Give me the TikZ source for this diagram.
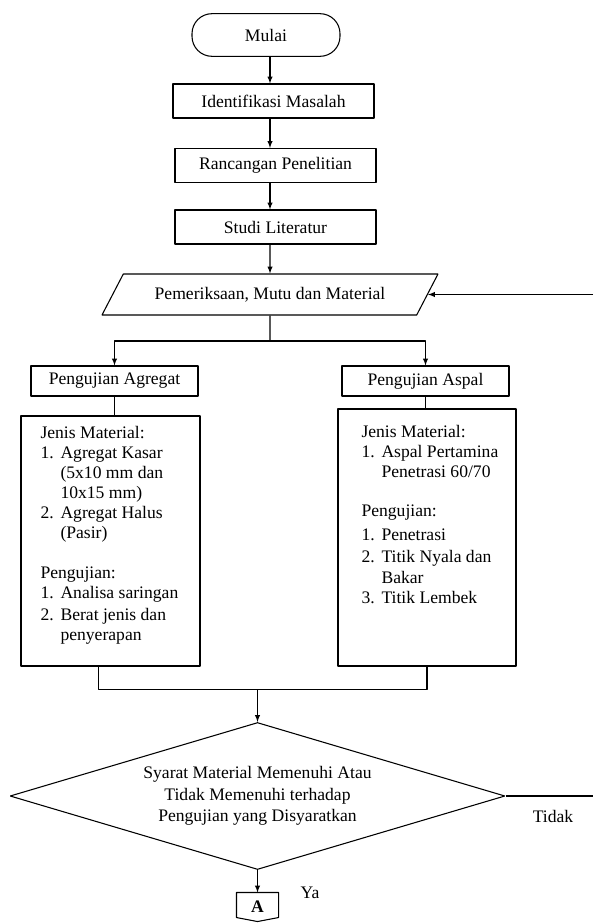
\documentclass[tikz,border=0pt]{standalone}
\usepackage{fontspec}
\setmainfont{Liberation Serif}
\usetikzlibrary{shapes.geometric}
\tikzset{
  terminal/.style={draw,rounded corners=15pt,minimum width=111pt,minimum height=32pt,inner sep=0pt},
  kotak/.style={draw,minimum width=150.75pt,minimum height=25.5pt,inner sep=0pt},
  kotakuji/.style={kotak,minimum width=125.25pt,minimum height=22.5pt},
  jajar/.style={draw,trapezium,trapezium left angle=35,trapezium right angle=145,
    trapezium stretches body,minimum width=252pt,minimum height=30.75pt,inner sep=0pt},
  isian/.style={draw,inner sep=0pt},
  teks/.style={anchor=north west,inner sep=0pt},
  syarat/.style={draw,diamond,aspect=3.4,minimum width=371.25pt,minimum height=110.25pt,
    inner sep=0pt,align=center},
}
\begin{document}
\begin{tikzpicture}[>=latex,line join=bevel,line width=0.8pt,x=0.75pt,y=-0.75pt,font=\fontsize{13.2}{15}\selectfont]
\useasboundingbox (0,0) rectangle (593,924);
%%
\node (node_mulai) at (266,35) [terminal] {Mulai};
  \node (node_identifikasi) at (273.5,101) [kotak] {Identifikasi Masalah};
  \node (node_rancangan) at (275.5,165.5) [kotak] {Rancangan Penelitian};
  \node (node_studi) at (275.5,227) [kotak] {Studi Literatur};
  \node (node_pemeriksaan) at (270,294.5) [jajar] {Pemeriksaan, Mutu dan Material};
  \node (node_agregat) at (114.5,381) [kotakuji] {Pengujian Agregat};
  \node (node_aspal) at (425.5,381) [kotakuji] {Pengujian Aspal};
  \node (node_isiagregat) at (110.5,541) [isian,minimum width=134.25pt,minimum height=187.5pt] {};
  \node (node_isiaspal) at (427,537.5) [isian,minimum width=133.5pt,minimum height=192.75pt] {};
  \node (node_teksagregat) at (40,424) [teks] {\begin{tabular}{@{}p{15pt}@{}l@{}}
    \multicolumn{2}{@{}l@{}}{Jenis Material:}\\
    1. & Agregat Kasar\\
       & (5x10 mm dan\\
       & 10x15 mm)\\
    2. & Agregat Halus\\
       & (Pasir)\\[15pt]
    \multicolumn{2}{@{}l@{}}{Pengujian:}\\
    1. & Analisa saringan\\[1.5pt]
    2. & Berat jenis dan\\
       & penyerapan
  \end{tabular}};
  \node (node_teksaspal) at (361,423) [teks] {\begin{tabular}{@{}p{15pt}@{}l@{}}
    \multicolumn{2}{@{}l@{}}{Jenis Material:}\\
    1. & Aspal Pertamina\\
       & Penetrasi 60/70\\[14pt]
    \multicolumn{2}{@{}l@{}}{Pengujian:}\\[3pt]
    1. & Penetrasi\\[1.5pt]
    2. & Titik Nyala dan\\[1pt]
       & Bakar\\
    3. & Titik Lembek
  \end{tabular}};
  \node (node_syarat) at (257.5,796) [syarat] {Syarat Material Memenuhi Atau\\[1pt] Tidak Memenuhi terhadap\\[1pt] Pengujian yang Disyaratkan};
  \node (node_tidak) at (553,816) {Tidak};
  \node (node_ya) at (310,893) {Ya};
  \node (node_a) at (257.5,907) [minimum width=30.75pt,minimum height=21pt,inner sep=0pt] {\textbf{A}};
  \coordinate (ujung_tidak) at (593,796);
%
  \draw [black] (node_a.north west) -- (node_a.north east) -- ([yshift=3pt]node_a.south east)
    -- (node_a.south) -- ([yshift=3pt]node_a.south west) -- cycle;
  \draw [black,->] (node_mulai.south -| node_pemeriksaan) -- (node_pemeriksaan |- node_identifikasi.north);
  \draw [black,->] (node_identifikasi.south -| node_pemeriksaan) -- (node_pemeriksaan |- node_rancangan.north);
  \draw [black,->] (node_rancangan.south -| node_pemeriksaan) -- (node_pemeriksaan |- node_studi.north);
  \draw [black,->] (node_studi.south -| node_pemeriksaan) -- (node_pemeriksaan);
  \draw [black] (node_pemeriksaan) -- ++(0,46.5) coordinate (cabang);
  \draw [black,->] (cabang) -| (node_agregat.north);
  \draw [black,->] (cabang) -| (node_aspal.north);
  \draw [black] (node_agregat) -- (node_agregat |- node_isiagregat.north);
  \draw [black] (node_aspal) -- (node_aspal |- node_isiaspal.north);
  \draw [black] ([xshift=-9pt]node_isiagregat.south) -- ++(0,23) coordinate (gabung) -| (node_isiaspal.south);
  \draw [black,->] (gabung -| node_syarat) -- (node_syarat);
  \draw [black,->] (node_syarat) -- (node_a);
  \draw [black] (node_syarat.east) -- (ujung_tidak);
  \draw [black,->] (node_pemeriksaan.east -| ujung_tidak) -- (node_pemeriksaan.east);
%
\end{tikzpicture}
\end{document}
